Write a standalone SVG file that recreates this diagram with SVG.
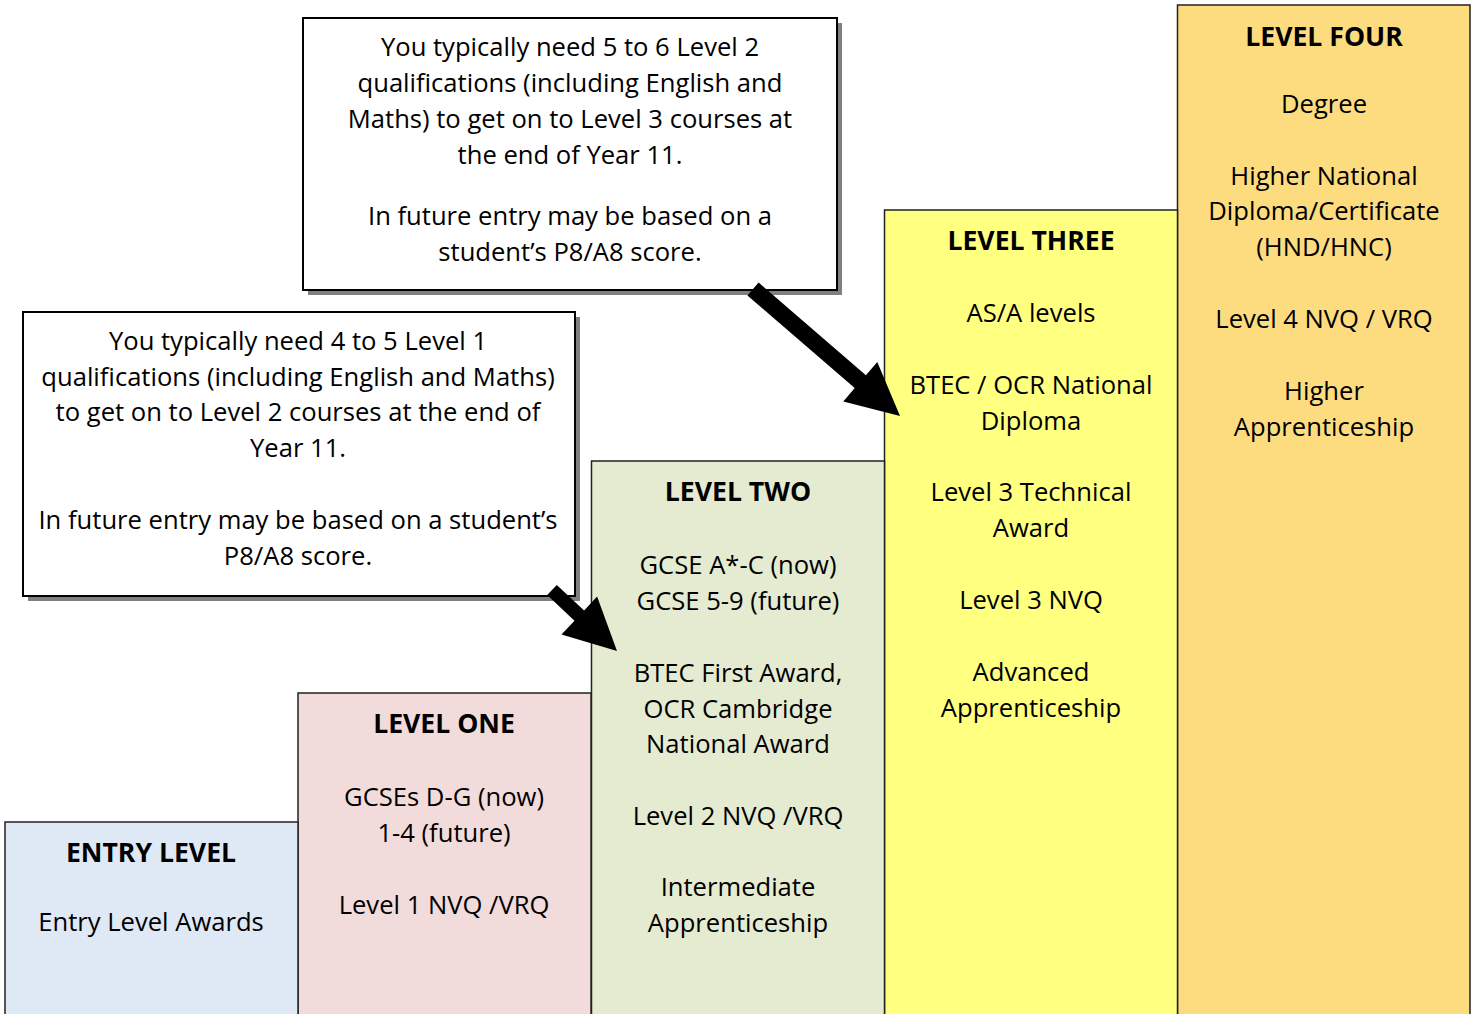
<svg xmlns="http://www.w3.org/2000/svg" width="1472" height="1014" viewBox="0 0 1472 1014">
<style>
text{font-family:"Open Sans",Lato,"Liberation Sans",sans-serif;font-size:25.6px;fill:#000;text-anchor:middle}
.h{font-weight:bold;font-size:26.6px}
.lvl{stroke:#222;stroke-width:1.5}
.call{fill:#fff;stroke:#000;stroke-width:2}
.shadow{fill:#808080}
.arrow{fill:#000}
</style>
<rect width="1472" height="1014" fill="#fff"/>
<g id="level-four">
<rect class="lvl" x="1177.5" y="5" width="292.5" height="1020" fill="#fddc80"/>
<text class="h" x="1324" y="46">LEVEL FOUR</text>
<text x="1324" y="113">Degree</text>
<text x="1324" y="185">Higher National</text>
<text x="1324" y="220">Diploma/Certificate</text>
<text x="1324" y="256">(HND/HNC)</text>
<text x="1324" y="328">Level 4 NVQ / VRQ</text>
<text x="1324" y="400">Higher</text>
<text x="1324" y="436">Apprenticeship</text>
</g>
<g id="level-three">
<rect class="lvl" x="884.5" y="210" width="293" height="820" fill="#ffff80"/>
<text class="h" x="1031" y="250">LEVEL THREE</text>
<text x="1031" y="322">AS/A levels</text>
<text x="1031" y="394">BTEC / OCR National</text>
<text x="1031" y="430">Diploma</text>
<text x="1031" y="501">Level 3 Technical</text>
<text x="1031" y="537">Award</text>
<text x="1031" y="609">Level 3 NVQ</text>
<text x="1031" y="681">Advanced</text>
<text x="1031" y="717">Apprenticeship</text>
</g>
<g id="level-two">
<rect class="lvl" x="591.5" y="461" width="293" height="570" fill="#e4ebd1"/>
<text class="h" x="738" y="501">LEVEL TWO</text>
<text x="738" y="574">GCSE A*-C (now)</text>
<text x="738" y="610">GCSE 5-9 (future)</text>
<text x="738" y="682">BTEC First Award,</text>
<text x="738" y="718">OCR Cambridge</text>
<text x="738" y="753">National Award</text>
<text x="738" y="825">Level 2 NVQ /VRQ</text>
<text x="738" y="896">Intermediate</text>
<text x="738" y="932">Apprenticeship</text>
</g>
<g id="level-one">
<rect class="lvl" x="298" y="693" width="293" height="340" fill="#f2dcdb"/>
<text class="h" x="444" y="733">LEVEL ONE</text>
<text x="444" y="806">GCSEs D-G (now)</text>
<text x="444" y="842">1-4 (future)</text>
<text x="444" y="914">Level 1 NVQ /VRQ</text>
</g>
<g id="entry-level">
<rect class="lvl" x="5" y="822" width="293" height="210" fill="#dfe8f5"/>
<text class="h" x="151" y="862">ENTRY LEVEL</text>
<text x="151" y="931">Entry Level Awards</text>
</g>
<g id="callout-level3">
<rect class="shadow" x="308" y="23" width="534" height="272"/>
<rect class="call" x="303" y="18" width="534" height="272"/>
<text x="570" y="56">You typically need 5 to 6 Level 2</text>
<text x="570" y="92">qualifications (including English and</text>
<text x="570" y="128">Maths) to get on to Level 3 courses at</text>
<text x="570" y="164">the end of Year 11.</text>
<text x="570" y="225">In future entry may be based on a</text>
<text x="570" y="261">student’s P8/A8 score.</text>
</g>
<g id="callout-level2">
<rect class="shadow" x="28" y="317" width="552" height="284"/>
<rect class="call" x="23" y="312" width="552" height="284"/>
<text x="298" y="350">You typically need 4 to 5 Level 1</text>
<text x="298" y="386">qualifications (including English and Maths)</text>
<text x="298" y="421">to get on to Level 2 courses at the end of</text>
<text x="298" y="457">Year 11.</text>
<text x="298" y="529">In future entry may be based on a student’s</text>
<text x="298" y="565">P8/A8 score.</text>
</g>
<g id="connectors">
<polygon class="arrow" points="758.6,282.6 865.9,375.3 877.3,362 900,416 843.3,401.4 854.7,388.1 747.4,295.4"/>
<polygon class="arrow" points="556.8,584.9 584.1,610.5 597.1,596.6 617,651 561.5,634.6 574.5,620.7 547.2,595.1"/>
</g>
</svg>
